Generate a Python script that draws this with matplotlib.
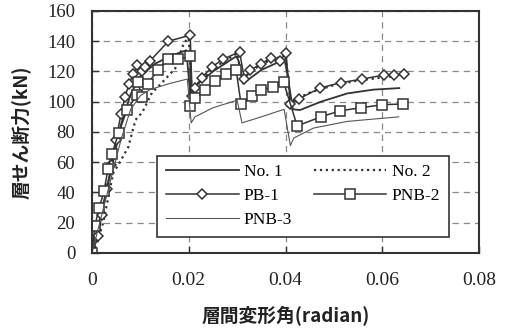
import matplotlib
matplotlib.use("Agg")
import matplotlib.pyplot as plt
from matplotlib.font_manager import FontProperties

# 層間変形角 (radian) と 層せん断力 (kN)
no1_x = [0, 0.002, 0.004, 0.006, 0.008, 0.010, 0.013, 0.016, 0.0195, 0.0203, 0.0212,
         0.025, 0.0298, 0.0303, 0.0312, 0.035, 0.0398, 0.0404, 0.0415, 0.043, 0.0473,
         0.0528, 0.0582, 0.0635]
no1_y = [0, 28, 55, 85, 105, 117, 125, 130, 134, 105, 110,
         120, 130, 127, 112, 121, 128, 118, 95, 94.5, 100,
         105.5, 108, 109]

no2_x = [0, 0.001, 0.0023, 0.0044, 0.0054, 0.0075, 0.009, 0.0104, 0.0124, 0.0137,
         0.0172, 0.019, 0.0200, 0.0206, 0.025, 0.030, 0.031, 0.035, 0.040, 0.041,
         0.045, 0.050, 0.055, 0.060, 0.064]
no2_y = [0, 6, 20, 53, 58, 70, 88, 93, 106, 110,
         122, 139, 142, 108, 122, 132, 115, 125, 131, 100,
         106, 111, 114, 116, 117]

pb1_x = [0, 0.0013, 0.002, 0.003, 0.004, 0.005, 0.006, 0.0068, 0.0077, 0.0085,
         0.0093, 0.0103, 0.011, 0.012, 0.0158, 0.0203, 0.0207, 0.0213, 0.0227, 0.0248,
         0.027, 0.0305, 0.0315, 0.0327, 0.035, 0.0369, 0.0388, 0.0401, 0.041, 0.0428,
         0.0471, 0.0514, 0.0559, 0.0604, 0.0624, 0.0645]
pb1_y = [0, 11, 25, 42, 58, 75, 92, 103, 112, 118,
         124, 120, 123, 127, 140, 144, 104, 109, 116, 123,
         128, 133, 115, 121, 125, 129, 127, 132, 98.5, 102,
         109, 112.6, 115, 117.7, 117.7, 118]

pnb2_x = [0, 0.0006, 0.0015, 0.0025, 0.0033, 0.0041, 0.0055, 0.0072, 0.0093, 0.0103,
          0.0095, 0.0115, 0.0137, 0.0158, 0.0178, 0.0203, 0.0203, 0.0213, 0.0234, 0.0255,
          0.0276, 0.0298, 0.0308, 0.033, 0.035, 0.0374, 0.0396, 0.0424, 0.0473, 0.0513,
          0.0555, 0.060, 0.0642]
pnb2_y = [0, 18, 30, 41, 55.5, 65.5, 79, 94.5, 104.5, 103,
          113, 112, 121, 128, 128, 130, 97, 102.5, 108, 114,
          118, 121, 98.5, 104, 108, 109.5, 113, 84, 90, 94,
          96, 98, 98.5]

pnb3_x = [0, 0.002, 0.004, 0.006, 0.008, 0.010, 0.012, 0.016, 0.0197, 0.0205,
          0.0213, 0.025, 0.030, 0.031, 0.035, 0.0397, 0.041, 0.0417, 0.0458, 0.0528,
          0.0634]
pnb3_y = [0, 25, 50, 75, 95, 104, 108, 112, 115, 86,
          90, 96, 101, 86, 90, 95, 71, 76, 82.6, 87,
          90]

x_ticks = [0, 0.02, 0.04, 0.06, 0.08]
x_tick_labels = ["0", "0.02", "0.04", "0.06", "0.08"]
y_ticks = [0, 20, 40, 60, 80, 100, 120, 140, 160]

ink = "#333333"
plt.rcParams['font.family'] = ['Liberation Serif', 'Noto Sans CJK JP']

fig = plt.figure(figsize=(5.06, 3.32), dpi=100)
ax = fig.add_axes([0.1818, 0.238, 0.765, 0.729])

h_no1, = ax.plot(no1_x, no1_y, "-", color=ink, lw=1.3, label="No. 1")
h_no2, = ax.plot(no2_x, no2_y, ":", color=ink, lw=1.6, label="No. 2")
h_pb1, = ax.plot(pb1_x, pb1_y, "-", color=ink, lw=1.1, marker="D", markersize=5.5,
                 markerfacecolor="white", markeredgecolor=ink, markeredgewidth=1.1,
                 label="PB-1")
h_pnb2, = ax.plot(pnb2_x, pnb2_y, "-", color=ink, lw=1.1, marker="s", markersize=6.5,
                  markerfacecolor="white", markeredgecolor=ink, markeredgewidth=1.1,
                  label="PNB-2")
h_pnb3, = ax.plot(pnb3_x, pnb3_y, "-", color="#555555", lw=0.8, label="PNB-3")

ax.set_xlim(0, 0.08)
ax.set_ylim(0, 160)
ax.set_xticks(x_ticks)
ax.set_yticks(y_ticks)
ax.tick_params(direction="in", length=5, width=1, color=ink, pad=12)
ax.tick_params(axis="x", pad=14)

fp_x = FontProperties(family="Liberation Serif", size=14)
fp_y = FontProperties(family="Liberation Serif", size=13.5)
ax.set_xticklabels(x_tick_labels, fontproperties=fp_x, color="#222222")
ax.set_yticklabels([str(v) for v in y_ticks], fontproperties=fp_y, color="#222222")

ax.grid(True, linestyle=(0, (5, 4)), color="#888888", lw=0.9)
for s in ax.spines.values():
    s.set_color(ink)
    s.set_linewidth(1.5)

ax.set_xlabel("層間変形角(radian)", family=["Noto Sans CJK JP", "DejaVu Sans"],
              fontsize=13.5, fontweight="bold", color="#222222", labelpad=11)
ax.set_ylabel("層せん断力(kN)", family=["Noto Sans CJK JP", "DejaVu Sans"],
              fontsize=13.5, fontweight="bold", color="#222222", labelpad=12)

# 行ごとに並ぶよう列順で渡す
handles = [h_no1, h_pb1, h_pnb3, h_no2, h_pnb2]
leg = ax.legend(handles, [h.get_label() for h in handles], ncol=2, loc="lower left",
                bbox_to_anchor=(0.168, 0.066, 0.754, 0.34), mode="expand",
                prop={"family": "Liberation Serif", "size": 12.5}, numpoints=1,
                frameon=True, fancybox=False, framealpha=1, edgecolor=ink,
                handlelength=4.2, borderaxespad=0, labelspacing=0.45, borderpad=0.5,
                handletextpad=0.3, columnspacing=1.0)
leg.get_frame().set_linewidth(1.2)

fig.savefig("out.png", dpi=100)
